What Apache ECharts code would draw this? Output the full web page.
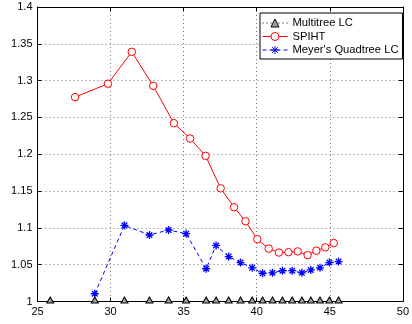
<!DOCTYPE html>
<html>
<head>
<meta charset="utf-8">
<script src="https://cdn.jsdelivr.net/npm/echarts@6/dist/echarts.min.js"></script>
<style>
html,body{margin:0;padding:0;background:#fff;}
#chart{width:412px;height:324px;}
</style>
</head>
<body>
<div id="chart"></div>
<script>
// ---- data ----
var seriesNames = ['Multitree LC', 'SPIHT', "Meyer's Quadtree LC"];

var multitreeX = [25.87, 28.92, 30.95, 32.66, 33.97, 35.17, 36.54, 37.22, 38.08, 38.89, 39.69, 40.40, 41.08, 41.76, 42.43, 43.09, 43.70, 44.33, 44.97, 45.60];
var multitreeY = [1, 1, 1, 1, 1, 1, 1, 1, 1, 1, 1, 1, 1, 1, 1, 1, 1, 1, 1, 1];

var spihtX = [27.57, 29.82, 31.45, 32.92, 34.33, 35.44, 36.50, 37.53, 38.45, 39.23, 40.04, 40.82, 41.52, 42.17, 42.80, 43.48, 44.08, 44.69, 45.27];
var spihtY = [1.2776, 1.2958, 1.3391, 1.2928, 1.2422, 1.2214, 1.1978, 1.1537, 1.128, 1.109, 1.0846, 1.0719, 1.0665, 1.067, 1.068, 1.063, 1.069, 1.0735, 1.0794];

var meyerX = [28.92, 30.95, 32.66, 33.97, 35.17, 36.54, 37.22, 38.08, 38.89, 39.69, 40.40, 41.08, 41.76, 42.43, 43.09, 43.70, 44.33, 44.97, 45.60];
var meyerY = [1.0105, 1.1034, 1.0903, 1.0971, 1.0921, 1.0445, 1.0762, 1.0610, 1.0529, 1.0457, 1.0384, 1.0390, 1.0418, 1.0418, 1.0390, 1.0429, 1.0457, 1.0529, 1.0542];

var xMin = 25, xMax = 50, xStep = 5;
var yMin = 1, yMax = 1.4, yStep = 0.05;

function pairs(xs, ys) { return xs.map(function (x, i) { return [x, ys[i]]; }); }

var FONT = 'Liberation Sans';
var asterisk = 'path://M5,0L5,10M0,5L10,5M1.5,1.5L8.5,8.5M1.5,8.5L8.5,1.5';

var chart = echarts.init(document.getElementById('chart'), null, {renderer: 'canvas'});
var gridLine = {show: true, lineStyle: {color: '#777', width: 1, type: [1, 3]}};
var frameLine = {show: true, onZero: false, lineStyle: {color: '#000', width: 1}};
var tickIn = {show: true, inside: true, length: 4, lineStyle: {color: '#000'}};

chart.setOption({
  animation: false,
  backgroundColor: '#fff',
  textStyle: {fontFamily: FONT},
  grid: {left: 37.5, right: 4, top: 7, bottom: 22.5, containLabel: false},
  xAxis: [{
    type: 'value', min: xMin, max: xMax, interval: xStep, position: 'bottom',
    axisLine: frameLine, axisTick: tickIn, splitLine: gridLine,
    axisLabel: {color: '#000', fontSize: 11, fontFamily: FONT, margin: 5}
  }, {
    type: 'value', min: xMin, max: xMax, interval: xStep, position: 'top',
    axisLine: frameLine, axisTick: tickIn, splitLine: {show: false}, axisLabel: {show: false}
  }],
  yAxis: [{
    type: 'value', min: yMin, max: yMax, interval: yStep, position: 'left',
    axisLine: frameLine, axisTick: tickIn, splitLine: gridLine,
    axisLabel: {color: '#000', fontSize: 11, fontFamily: FONT, margin: 5}
  }, {
    type: 'value', min: yMin, max: yMax, interval: yStep, position: 'right',
    axisLine: frameLine, axisTick: tickIn, splitLine: {show: false}, axisLabel: {show: false}
  }],
  legend: {
    orient: 'vertical', left: 260, top: 13,
    backgroundColor: '#fff', borderColor: '#000', borderWidth: 1, borderRadius: 0,
    padding: [4, 4, 3, 2], itemWidth: 25, itemHeight: 10, itemGap: 1.5,
    selectedMode: false,
    lineStyle: {width: 1},
    itemStyle: {borderWidth: 1},
    textStyle: {color: '#000', fontSize: 11.2, fontFamily: FONT, lineHeight: 12},
    data: seriesNames
  },
  series: [{
    name: seriesNames[0], type: 'line', clip: false, z: 5,
    data: pairs(multitreeX, multitreeY),
    symbol: 'triangle', symbolSize: [7, 6], symbolOffset: [0, -1.5],
    lineStyle: {color: '#000', width: 1, type: [1, 3]},
    itemStyle: {color: '#a0a0a0', borderColor: '#000', borderWidth: 1}
  }, {
    name: seriesNames[1], type: 'line', clip: false,
    data: pairs(spihtX, spihtY),
    symbol: 'circle', symbolSize: 7.5,
    lineStyle: {color: '#ff0000', width: 1},
    itemStyle: {color: '#ffffff', borderColor: '#ff0000', borderWidth: 1}
  }, {
    name: seriesNames[2], type: 'line', clip: false,
    data: pairs(meyerX, meyerY),
    symbol: asterisk, symbolSize: 8,
    lineStyle: {color: '#0000ff', width: 1, type: [4, 3]},
    itemStyle: {color: '#0000ff', borderColor: '#0000ff', borderWidth: 1.3}
  }]
});
</script>
</body>
</html>
